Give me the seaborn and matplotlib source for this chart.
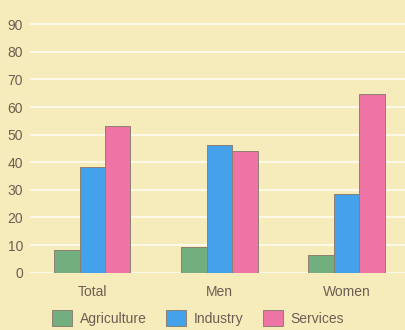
import matplotlib
matplotlib.use("Agg")
import matplotlib.pyplot as plt
import seaborn as sns
import pandas as pd

# Employment share by sector (%)
groups = ["Total", "Men", "Women"]
sectors = ["Agriculture", "Industry", "Services"]
agriculture = [8.2, 9.4, 6.4]
industry = [38.3, 46.2, 28.6]
services = [53.3, 44.1, 64.7]
y_ticks = [0, 10, 20, 30, 40, 50, 60, 70, 80, 90]

bg = "#F6EBBB"
text_col = "#6B5F53"
palette = {"Agriculture": "#72AE7E", "Industry": "#44A2EA", "Services": "#EE74A6"}

sns.set_theme(style="white")
plt.rcParams["font.family"] = ["Liberation Sans", "DejaVu Sans"]

rows = []
for g, a, i, s in zip(groups, agriculture, industry, services):
    rows += [(g, "Agriculture", a), (g, "Industry", i), (g, "Services", s)]
df = pd.DataFrame(rows, columns=["group", "sector", "value"])

fig = plt.figure(figsize=(4.05, 3.30), dpi=100)
fig.patch.set_facecolor(bg)
ax = fig.add_axes([30 / 405, 1 - 272.7 / 330, 375 / 405, 272.7 / 330])
ax.set_facecolor(bg)

sns.barplot(data=df, x="group", y="value", hue="sector", order=groups,
            hue_order=sectors, palette=palette, width=0.6, saturation=1,
            edgecolor="#8C8070", linewidth=0.7, ax=ax, zorder=3)

ax.set_xlim(-0.49, 2.46)
ax.set_ylim(0, 98.8)
ax.set_yticks(y_ticks)
ax.set_yticklabels([str(t) for t in y_ticks])
ax.grid(axis="y", color="#FFFDF2", linewidth=1.2, zorder=0)
ax.set_axisbelow(True)
for sp in ax.spines.values():
    sp.set_visible(False)
ax.tick_params(axis="y", length=0, pad=5, labelsize=10, labelcolor=text_col)
ax.tick_params(axis="x", length=0, pad=9, labelsize=10, labelcolor=text_col)
ax.set_xlabel("")
ax.set_ylabel("")

handles, labels = ax.get_legend_handles_labels()
ax.get_legend().remove()
fig.legend(handles, labels, loc="center", bbox_to_anchor=(0.489, 0.036),
           ncol=3, frameon=False, fontsize=10, labelcolor=text_col,
           handlelength=1.45, handleheight=1.45, columnspacing=1.4,
           handletextpad=0.55, borderpad=0, borderaxespad=0)

fig.savefig("out.png", dpi=100, facecolor=bg)
